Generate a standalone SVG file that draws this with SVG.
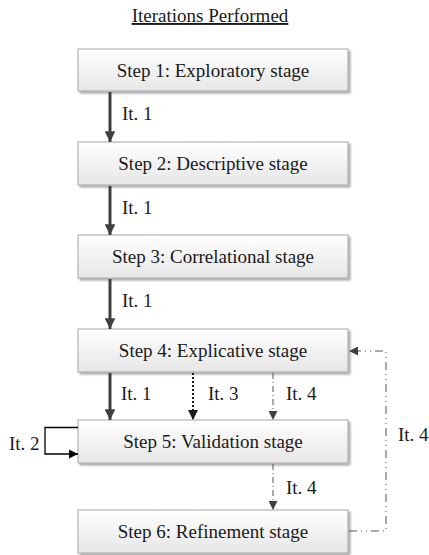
<svg xmlns="http://www.w3.org/2000/svg" width="429" height="555" viewBox="0 0 429 555" font-family="'Liberation Serif', 'Times New Roman', 'DejaVu Serif', serif" font-size="19">
  <defs>
    <linearGradient id="boxFill" x1="0" y1="0" x2="0" y2="1">
      <stop offset="0" stop-color="#ffffff"/>
      <stop offset="1" stop-color="#e6e6e6"/>
    </linearGradient>
    <filter id="shadow" x="-5%" y="-10%" width="115%" height="130%">
      <feGaussianBlur in="SourceAlpha" stdDeviation="1"/>
      <feOffset dx="2" dy="2"/>
      <feComponentTransfer><feFuncA type="linear" slope="0.35"/></feComponentTransfer>
      <feMerge><feMergeNode/><feMergeNode in="SourceGraphic"/></feMerge>
    </filter>
    <marker id="headBig" viewBox="0 0 10 10" refX="10" refY="5" markerWidth="3.6" markerHeight="3.6" orient="auto" markerUnits="strokeWidth">
      <path d="M0,0 L10,5 L0,10 z" fill="#404040"/>
    </marker>
    <marker id="headMid" viewBox="0 0 10 10" refX="10" refY="5" markerWidth="5" markerHeight="5" orient="auto" markerUnits="strokeWidth">
      <path d="M0,0 L10,5 L0,10 z" fill="#1a1a1a"/>
    </marker>
    <marker id="headSmall" viewBox="0 0 10 10" refX="10" refY="5" markerWidth="9" markerHeight="9" orient="auto" markerUnits="strokeWidth">
      <path d="M0,0 L10,5 L0,10 z" fill="#404040"/>
    </marker>
    <marker id="headLoop" viewBox="0 0 10 10" refX="10" refY="5" markerWidth="7" markerHeight="7" orient="auto" markerUnits="strokeWidth">
      <path d="M0,0 L10,5 L0,10 z" fill="#000"/>
    </marker>
  </defs>
  <style>
    text { font-family: "Liberation Serif", "Times New Roman", "DejaVu Serif", serif; font-size: 19px; fill: #1a1a1a; }
    .box { fill: url(#boxFill); stroke: #a6a6a6; stroke-width: 1; filter: url(#shadow); }
    .label { text-anchor: middle; }
    .solid { stroke: #404040; stroke-width: 3; fill: none; marker-end: url(#headBig); }
    .dotted { stroke: #1a1a1a; stroke-width: 2; stroke-dasharray: 2 2; fill: none; marker-end: url(#headMid); }
    .dashdot { stroke: #555; stroke-width: 1; stroke-dasharray: 6 3 1 3; fill: none; marker-end: url(#headSmall); }
    .loop { stroke: #000; stroke-width: 1.3; fill: none; marker-end: url(#headLoop); }
    .feedback { stroke: #555; stroke-width: 1; stroke-dasharray: 8 4 1 4 1 4; fill: none; marker-end: url(#headSmall); }
  </style>

  <text x="210" y="22" class="label" text-decoration="underline">Iterations Performed</text>

  <g id="step1">
    <rect class="box" x="78" y="49" width="270" height="42"/>
    <text class="label" x="213" y="77">Step 1: Exploratory stage</text>
  </g>
  <g id="step2">
    <rect class="box" x="78" y="142" width="270" height="43"/>
    <text class="label" x="213" y="170">Step 2: Descriptive stage</text>
  </g>
  <g id="step3">
    <rect class="box" x="78" y="235" width="270" height="43"/>
    <text class="label" x="213" y="263">Step 3: Correlational stage</text>
  </g>
  <g id="step4">
    <rect class="box" x="78" y="329" width="270" height="43"/>
    <text class="label" x="213" y="357">Step 4: Explicative stage</text>
  </g>
  <g id="step5">
    <rect class="box" x="78" y="420" width="270" height="43"/>
    <text class="label" x="213" y="448">Step 5: Validation stage</text>
  </g>
  <g id="step6">
    <rect class="box" x="78" y="510" width="270" height="43"/>
    <text class="label" x="213" y="538">Step 6: Refinement stage</text>
  </g>

  <g id="connectors">
    <path class="solid" d="M110,92 V142"/>
    <text x="122" y="120">It. 1</text>
    <path class="solid" d="M110,186 V235"/>
    <text x="122" y="214">It. 1</text>
    <path class="solid" d="M110,279 V329"/>
    <text x="122" y="307">It. 1</text>

    <path class="solid" d="M110,373 V420"/>
    <text x="121" y="400">It. 1</text>
    <path class="dotted" d="M193,373 V420"/>
    <text x="208" y="400">It. 3</text>
    <path class="dashdot" d="M273,373 V420"/>
    <text x="286" y="400">It. 4</text>

    <path class="loop" d="M78,427.5 H45 V454 H78"/>
    <text x="9" y="450">It. 2</text>

    <path class="dashdot" d="M273,464 V510"/>
    <text x="286" y="494">It. 4</text>

    <path class="feedback" d="M349,531 H386 V351 H349"/>
    <text x="398" y="441">It. 4</text>
  </g>
</svg>
